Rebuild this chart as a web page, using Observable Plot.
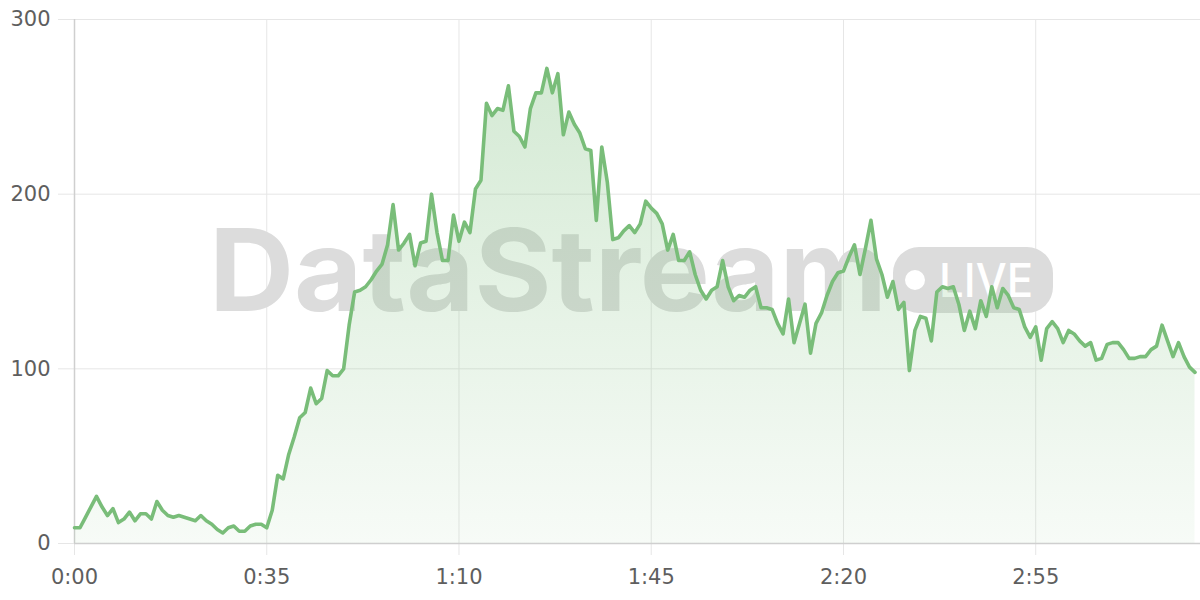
<!DOCTYPE html>
<html><head><meta charset="utf-8">
<script src="https://cdn.jsdelivr.net/npm/d3@7"></script>
<script src="https://cdn.jsdelivr.net/npm/@observablehq/plot@0.6"></script>
<style>
html,body{margin:0;padding:0;background:#fff;}
#chart{width:1200px;height:600px;overflow:hidden;}
</style></head><body><div id="chart"></div>
<script>
// viewers per second, 0:00 .. 3:24
const viewers = [
  9, 9, 15, 21, 27, 21, 16, 20, 12, 14, 18, 13, 17, 17, 14, 24, 19, 16, 15, 16,
  15, 14, 13, 16, 13, 11, 8, 6, 9, 10, 7, 7, 10, 11, 11, 9, 19, 39, 37, 51,
  61, 72, 75, 89, 80, 83, 99, 96, 96, 100, 125, 144, 145, 147, 151, 156, 160, 171, 194, 168,
  172, 177, 159, 172, 173, 200, 178, 162, 162, 188, 173, 184, 178, 203, 208, 252, 245, 249, 248, 262,
  236, 233, 227, 249, 258, 258, 272, 258, 269, 234, 247, 240, 235, 226, 225, 185, 227, 207, 174, 175,
  179, 182, 178, 183, 196, 192, 189, 183, 168, 177, 162, 162, 167, 154, 145, 140, 145, 147, 162, 147,
  139, 142, 141, 145, 147, 135, 135, 134, 126, 120, 140, 115, 126, 137, 109, 126, 132, 142, 150, 155,
  156, 164, 171, 154, 169, 185, 163, 154, 141, 150, 134, 138, 99, 122, 130, 129, 116, 144, 147, 146,
  147, 137, 122, 133, 123, 139, 130, 147, 135, 146, 142, 135, 134, 124, 118, 124, 105, 123, 127, 123,
  115, 122, 120, 116, 113, 115, 105, 106, 114, 115, 115, 111, 106, 106, 107, 107, 111, 113, 125, 116,
  107, 115, 107, 101, 98
];
const xTicks = [0, 35, 70, 105, 140, 175];
const yTicks = [0, 100, 200, 300];
const watermarkWord = "DataStream";
const watermarkBadge = "LIVE";

const data = viewers.map((v, i) => ({t: i, v}));
const fmt = s => `${Math.floor(s / 60)}:${String(s % 60).padStart(2, "0")}`;
const GRID = "#e6e6e6", AXIS = "#cfcfcf", LINE = "#79bd79", LABEL = "#5e5e5e";

const chart = Plot.plot({
  width: 1200, height: 600,
  marginLeft: 74, marginRight: 0, marginTop: 19, marginBottom: 57,
  style: {fontFamily: "DejaVu Sans", fontSize: "21px", color: LABEL, background: "#fff"},
  x: {domain: [0, 205], label: null},
  y: {domain: [0, 300], label: null},
  marks: [
    Plot.gridY(yTicks, {stroke: GRID, strokeOpacity: 1}),
    Plot.gridX(xTicks, {stroke: GRID, strokeOpacity: 1}),
    Plot.axisY(yTicks, {tickSize: 16, tickPadding: 8, stroke: GRID, strokeOpacity: 1, fill: LABEL, fontSize: 21, label: null}),
    Plot.axisX(xTicks, {tickSize: 12, tickPadding: 14, tickFormat: fmt, stroke: GRID, strokeOpacity: 1, fill: LABEL, fontSize: 21, label: null}),
    Plot.ruleX([0], {stroke: AXIS, strokeWidth: 1.5}),
    Plot.ruleY([0], {stroke: AXIS, strokeWidth: 1.5}),
    Plot.areaY(data, {x: "t", y: "v", fill: "url(#areaGrad)"}),
    Plot.lineY(data, {x: "t", y: "v", stroke: LINE, strokeWidth: 3.6, strokeLinejoin: "round"})
  ]
});

const svg = d3.select(chart);
const defs = svg.insert("defs", ":first-child");
const grad = defs.append("linearGradient").attr("id", "areaGrad")
  .attr("x1", 0).attr("y1", 0).attr("x2", 0).attr("y2", 1);
grad.append("stop").attr("offset", "0%").attr("stop-color", LINE).attr("stop-opacity", 0.32);
grad.append("stop").attr("offset", "100%").attr("stop-color", LINE).attr("stop-opacity", 0.06);

// watermark, drawn below the area and line
const areaNode = chart.querySelector('g[aria-label="area"]');
const wm = document.createElementNS("http://www.w3.org/2000/svg", "g");
chart.insertBefore(wm, areaNode);
const w = d3.select(wm).attr("aria-label", "watermark").attr("text-anchor", "start");
w.append("text").text(watermarkWord)
  .attr("x", 209).attr("y", 311).attr("text-anchor", "start")
  .attr("font-family", "Inter, 'Liberation Sans', sans-serif").attr("font-weight", 700)
  .attr("font-size", 114).attr("fill", "#dcdcdc")
  .attr("textLength", 678).attr("lengthAdjust", "spacingAndGlyphs");
w.append("rect").attr("x", 893).attr("y", 247).attr("width", 160).attr("height", 66)
  .attr("rx", 26).attr("fill", "#dcdcdc");
w.append("circle").attr("cx", 915).attr("cy", 280).attr("r", 10).attr("fill", "#fff");
w.append("text").text(watermarkBadge)
  .attr("x", 939).attr("y", 297).attr("text-anchor", "start")
  .attr("font-family", "Inter, 'Liberation Sans', sans-serif").attr("font-weight", 500)
  .attr("font-size", 47).attr("fill", "#fff")
  .attr("textLength", 94).attr("lengthAdjust", "spacingAndGlyphs");

document.getElementById("chart").appendChild(chart);
</script></body></html>
